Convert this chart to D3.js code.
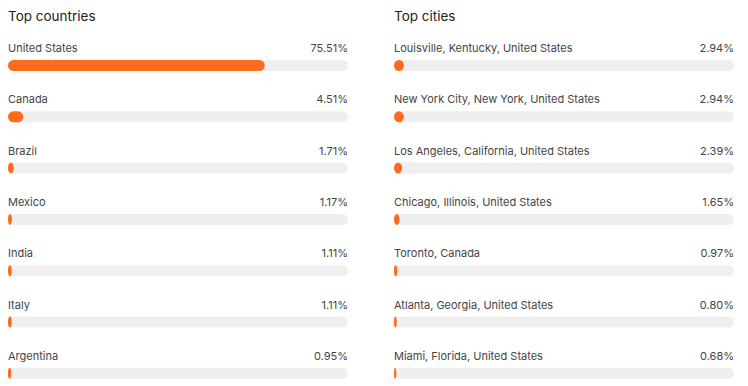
<!DOCTYPE html>
<html>
<head>
<meta charset="utf-8">
<script src="https://cdn.jsdelivr.net/npm/d3@7"></script>
<style>
  body { margin: 0; background: #fff; }
  svg { display: block; font-family: Inter, "Open Sans", sans-serif; }
</style>
</head>
<body>
<div id="chart"></div>
<script>
const countries = ["United States", "Canada", "Brazil", "Mexico", "India", "Italy", "Argentina"];
const countryShares = [75.51, 4.51, 1.71, 1.17, 1.11, 1.11, 0.95];

const cities = [
  "Louisville, Kentucky, United States",
  "New York City, New York, United States",
  "Los Angeles, California, United States",
  "Chicago, Illinois, United States",
  "Toronto, Canada",
  "Atlanta, Georgia, United States",
  "Miami, Florida, United States"
];
const cityShares = [2.94, 2.94, 2.39, 1.65, 0.97, 0.80, 0.68];

const width = 748;
const height = 386;
const barH = 11;
const rowStep = 51.3;

const svg = d3.select("#chart").append("svg")
  .attr("width", width)
  .attr("height", height);

function panel(x0, title, names, values) {
  const g = svg.append("g").attr("transform", `translate(${x0},0)`);

  const x = d3.scaleLinear().domain([0, 100]).range([0, 340]);

  g.append("text")
    .attr("x", 0)
    .attr("y", 21)
    .attr("font-size", "13.5px")
    .attr("fill", "#222")
    .text(title);

  const rows = g.selectAll("g.row")
    .data(names.map((n, i) => ({ name: n, value: values[i] })))
    .enter().append("g")
    .attr("class", "row")
    .attr("transform", (d, i) => `translate(0,${i * rowStep})`);

  rows.append("text")
    .attr("x", 0)
    .attr("y", 52)
    .attr("font-size", "11px")
    .attr("fill", "#444")
    .text(d => d.name);

  rows.append("text")
    .attr("x", x(100))
    .attr("y", 52)
    .attr("text-anchor", "end")
    .attr("font-size", "11px")
    .attr("fill", "#444")
    .text(d => d.value.toFixed(2) + "%");

  // track
  rows.append("rect")
    .attr("x", 0)
    .attr("y", 60)
    .attr("width", x(100))
    .attr("height", barH)
    .attr("rx", barH / 2)
    .attr("fill", "#efefef");

  // value bar
  rows.append("rect")
    .attr("x", 0)
    .attr("y", 60)
    .attr("width", d => x(d.value))
    .attr("height", barH)
    .attr("rx", barH / 2)
    .attr("fill", "#ff6b1c");
}

panel(8, "Top countries", countries, countryShares);
panel(394, "Top cities", cities, cityShares);
</script>
</body>
</html>
